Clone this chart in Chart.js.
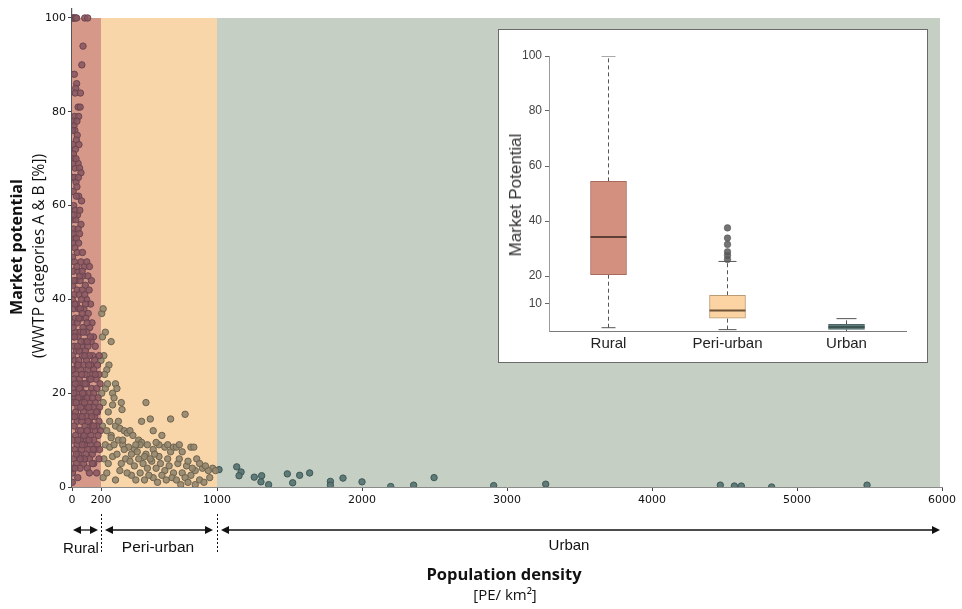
<!DOCTYPE html>
<html>
<head>
<meta charset="utf-8">
<script src="https://cdn.jsdelivr.net/npm/chart.js@4.4.1/dist/chart.umd.min.js"></script>
<style>
  html, body { margin: 0; padding: 0; background: #ffffff; }
  #wrap { position: relative; width: 962px; height: 609px; overflow: hidden; background: #fff; }
  #main { position: absolute; left: 0; top: 0; }
  #inset { position: absolute; left: 498px; top: 29px; width: 428px; height: 332px; border: 1px solid #6a6a6a; background: #ffffff; }
  #insetCanvas { position: absolute; left: 0; top: 0; }
  .lbl { position: absolute; white-space: nowrap; color: #111; }
  .rot { transform-origin: center center; transform: translate(-50%, -50%) rotate(-90deg); }
  .ctr { transform: translate(-50%, -50%); }
</style>
</head>
<body>
<div id="wrap">
  <canvas id="main" width="962" height="609"></canvas>
  <div id="inset">
    <canvas id="insetCanvas" width="428" height="332"></canvas>
    <div class="lbl rot" style="left:17px; top:165px; font-family:'Liberation Sans', Arial, sans-serif; font-size:17px; color:#333;">Market Potential</div>
  </div>
  <div class="lbl rot" style="left:16px; top:247px; font-family:'Open Sans', sans-serif; font-weight:700; font-size:16px;">Market potential</div>
  <div class="lbl rot" style="left:38px; top:256px; font-family:'Open Sans', sans-serif; font-size:15.5px;">(WWTP categories A &amp; B [%])</div>
  <div class="lbl ctr" style="left:504px; top:573px; font-family:'Open Sans', sans-serif; font-weight:700; font-size:16.5px;">Population density</div>
  <div class="lbl ctr" style="left:505px; top:594px; font-family:'Open Sans', sans-serif; font-size:15px;">[PE/ km²]</div>
  <div class="lbl ctr" style="left:81px; top:547px; font-family:'Liberation Sans', Arial, sans-serif; font-size:15px;">Rural</div>
  <div class="lbl ctr" style="left:158px; top:547px; font-family:'Liberation Sans', Arial, sans-serif; font-size:15.5px;">Peri-urban</div>
  <div class="lbl ctr" style="left:569px; top:544px; font-family:'Liberation Sans', Arial, sans-serif; font-size:15px;">Urban</div>
</div>
<script>
// ---------------- DATA ----------------
const xTickValues = [0, 200, 1000, 2000, 3000, 4000, 5000, 6000];
const yTickValues = [0, 20, 40, 60, 80, 100];
const zoneBounds = [0, 200, 1000, 6000];   // rural | peri-urban | urban
const zoneNames = ['Rural', 'Peri-urban', 'Urban'];

// [population density, market potential %]
const ruralPoints = [
 [4,100],[10,100],[17,100],[25,100],[32,100],[88,100],[108,100],
 [76,94],[68,90],
 [32,86],[26,85],[22,84],[42,81],[56,81],[18,79],[46,79],[8,78],[14,77],[20,76],[36,75],[30,74],[6,73],[24,72],[10,71],
 [12,70],[42,69],[22,68],[52,68],[62,67],[4,66],[16,66],[28,65],[34,64],[8,63],[46,62],[66,61],[12,60],[22,59],[38,58],
 [4,57],[26,57],[62,56],[10,55],[42,55],[52,54],[16,53],[30,53],[6,52],[46,52],[20,51],[36,50],[72,50],[2,54],[14,58],
 [54,59],[30,62],[44,66],[6,69],[28,70],[48,73],[2,76],[34,78],[58,84],[16,88],
 [3,49],[18,48],[62,48],[86,47],[102,48],[120,47],[8,46],[40,46],[76,45],[110,45],[26,44],[56,44],[134,44],[5,43],
 [92,43],[36,42],[70,42],[118,42],[15,41],[50,41],[100,40],[2,40],[66,40],[30,39],[128,39],[82,38],[10,38],[46,38],
 [112,37],[22,36],[60,36],[96,36],[138,35],[5,35],[36,35],[76,34],[122,34],[26,33],[56,33],[102,33],[148,32],[12,32],
 [42,32],[86,31],[132,31],[16,30],[66,30],[110,30],[160,30],[30,29],[50,29],[92,29],[142,28],[3,28],[72,28],[120,28],
 [188,28],[20,27],[46,27],[100,27],[156,27],[36,26],[80,26],[130,26],[176,26],[8,25],[60,25],[110,25],[150,25],[26,24],
 [90,24],[140,24],[186,24],[15,23],[50,23],[120,23],[166,23],[40,22],[76,22],[100,22],[194,22],[5,21],[60,21],[136,21],
 [170,21],[30,20],[86,20],[116,20],[150,20],[20,19],[56,19],[96,19],[180,19],[10,18],[70,18],[126,18],[160,18],[40,17],
 [106,17],[146,17],[190,17],[25,16],[80,16],[130,16],[176,16],[5,15],[50,15],[100,15],[156,15],[35,14],[66,14],[120,14],
 [186,14],[15,13],[90,13],[140,13],[170,13],[45,12],[110,12],[160,12],[196,12],[25,11],[76,11],[130,11],[180,11],[8,10],
 [56,10],[100,10],[150,10],[35,9],[86,9],[126,9],[176,9],[20,8],[66,8],[116,8],[160,8],[190,8],[45,7],[96,7],[140,7],
 [10,6],[70,6],[120,6],[186,6],[30,5],[80,5],[150,5],[56,4],[106,4],[3,3],[170,3],[40,2],[2,1],[6,4],
 [12,44],[34,47],[54,45],[70,46],[88,41],[20,39],[58,38],[94,39],[8,34],[48,36],[70,37],[104,35],[18,32],[62,31],[78,33],
 [126,32],[38,30],[88,28],[106,31],[2,25],[42,26],[68,24],[116,26],[160,24],[22,22],[52,21],[90,22],[130,23],[12,20],
 [42,19],[74,20],[106,19],[142,19],[28,18],[60,17],[86,18],[116,17],[168,16],[18,15],[70,15],[110,14],[136,15],[60,12],
 [84,11],[104,12],[150,13],[40,10],[118,10],[70,9],[146,8],[30,7],[86,6],[56,6],[140,5],[20,4],[120,3]
];

const periUrbanPoints = [
 [205,37],[215,38],[230,33],[210,32],[270,31],[255,26],[220,28],[240,25],[300,22],[310,21],[280,20],[230,21],[340,18],
 [345,16.5],[290,19],[510,18],[780,15.5],[540,14.5],[680,14.5],[215,18],[260,14],[300,13],[330,12.5],[360,12],[380,11.5],
 [210,13],[240,12],[270,11],[320,10],[400,12],[420,11],[460,10],[480,9.5],[230,9],[260,8.5],[290,9],[350,9],[390,8.5],
 [430,8],[470,9],[510,7],[560,8],[600,6.5],[640,8.5],[680,7.5],[700,8.5],[720,8.5],[760,7.5],[820,8.5],[860,6],[900,4],
 [950,2],[970,4],[220,6],[250,5],[280,6.5],[310,7],[340,5],[370,6],[400,5.5],[430,4.5],[460,6],[490,5],[520,4],[550,5.5],
 [580,4],[610,5],[640,3.5],[670,4.5],[700,3],[730,5],[760,3],[790,4.5],[820,2.5],[850,3.5],[880,1.5],[910,1],[940,3.5],
 [215,2],[240,3],[300,1.5],[330,3.5],[410,2.5],[440,1.5],[500,1.5],[560,2],[590,1],[620,2.5],[650,1.5],[690,2],[720,1.5],
 [750,0.5],[780,2],[800,1],[830,4],[850,0.5],[380,3],[470,3],[530,2.5],[600,9],[480,14],[620,11],[560,12],[250,16],
 [320,14],[280,17.5],[360,8],[410,7],[450,7.5],[500,6.5],[540,6],[570,7],[660,6],[740,6],[800,5.5],[880,5],[920,4.5],
 [990,3.5],[205,20],[225,24],[245,22],[200,27],[270,10.5],[350,10],[440,9],[520,9],[580,9.5],[660,9],[740,9],[840,8.5]
];

const urbanPoints = [
 [1014,3.7],[1136,4.3],[1166,3.2],[1152,2.4],[1257,2.1],[1308,2.4],[1303,1.1],[1356,0.5],[1485,2.8],[1522,0.9],
 [1570,2.5],[1639,3.0],[1782,1.2],[1782,0.4],[1869,1.9],[2000,1.1],[2198,0.1],[2356,0.4],[2497,2.0],[2908,0.3],
 [3267,0.6],[4471,0.4],[4568,0.2],[4616,0.2],[4825,0.0],[5483,0.4]
];

// inset box plot (Market Potential by zone)
const boxMin    = [1.2, 0.5, 0];
const boxQ1     = [20.5, 4.7, 0.6];
const boxMedian = [34.2, 7.5, 1.5];
const boxQ3     = [54.4, 13, 2.4];
const boxMax    = [100, 25.3, 4.5];
const periOutliers = [26, 27.5, 28.8, 31.5, 33.8, 37.5];
const insetTickValues = [10, 20, 40, 60, 80, 100];

// ---------------- STYLE ----------------
const bandColors = ['#d69888', '#f9d6a9', '#c6cfc4'];
const pointFill = ['rgba(138,86,96,0.88)', 'rgba(146,134,110,0.9)', 'rgba(88,118,116,0.95)'];
const pointEdge = ['#6a4550', '#6e6450', '#3e5756'];
const boxFill = ['#d4907f', '#fcd3a3', '#617f7c'];
const boxEdge = ['#a86a5c', '#b99a74', '#4b6664'];
const medianColor = ['#5e3e36', '#6e5438', '#3c5452'];

const toXY = arr => arr.map(p => ({ x: p[0], y: p[1] }));

const bandPlugin = {
  id: 'bands',
  beforeDatasetsDraw(chart) {
    const { ctx, scales: { x, y } } = chart;
    const top = y.getPixelForValue(100), bottom = y.getPixelForValue(0);
    ctx.save();
    for (let i = 0; i < 3; i++) {
      const l = x.getPixelForValue(zoneBounds[i]);
      const r = x.getPixelForValue(zoneBounds[i + 1]) - (i === 2 ? 2 : 0);
      ctx.fillStyle = bandColors[i];
      ctx.fillRect(l, top, r - l, bottom - top);
    }
    ctx.restore();
  }
};

function arrowHead(ctx, x, y, dir) {
  ctx.beginPath();
  ctx.moveTo(x, y);
  ctx.lineTo(x - dir * 8, y - 4);
  ctx.lineTo(x - dir * 8, y + 4);
  ctx.closePath();
  ctx.fill();
}

const zonePlugin = {
  id: 'zones',
  afterDraw(chart) {
    const { ctx, scales: { x } } = chart;
    const ay = 530;
    ctx.save();
    ctx.strokeStyle = '#111';
    ctx.fillStyle = '#111';
    ctx.lineWidth = 1.3;
    const segs = [
      [x.getPixelForValue(zoneBounds[0]) + 1, x.getPixelForValue(zoneBounds[1]) - 3],
      [x.getPixelForValue(zoneBounds[1]) + 4, x.getPixelForValue(zoneBounds[2]) - 4],
      [x.getPixelForValue(zoneBounds[2]) + 4, x.getPixelForValue(zoneBounds[3]) - 2]
    ];
    segs.forEach(([a, b]) => {
      ctx.beginPath();
      ctx.moveTo(a + 4, ay);
      ctx.lineTo(b - 4, ay);
      ctx.stroke();
      arrowHead(ctx, a, ay, -1);
      arrowHead(ctx, b, ay, 1);
    });
    ctx.setLineDash([2, 2]);
    ctx.lineWidth = 1;
    [zoneBounds[1], zoneBounds[2]].forEach(v => {
      const px = Math.round(x.getPixelForValue(v)) + 0.5;
      ctx.beginPath();
      ctx.moveTo(px, 514);
      ctx.lineTo(px, 552);
      ctx.stroke();
    });
    ctx.restore();
  }
};

const tickFont = { family: "'DejaVu Sans', sans-serif", size: 11 };

new Chart(document.getElementById('main'), {
  type: 'scatter',
  data: {
    datasets: [
      { label: zoneNames[0], data: toXY(ruralPoints), backgroundColor: pointFill[0], borderColor: pointEdge[0] },
      { label: zoneNames[1], data: toXY(periUrbanPoints), backgroundColor: pointFill[1], borderColor: pointEdge[1] },
      { label: zoneNames[2], data: toXY(urbanPoints), backgroundColor: pointFill[2], borderColor: pointEdge[2] }
    ].map(d => Object.assign(d, { pointRadius: 3.2, borderWidth: 1 }))
  },
  options: {
    responsive: false,
    animation: false,
    layout: { padding: { left: 0, right: 20, top: 8, bottom: 0 } },
    plugins: { legend: { display: false }, tooltip: { enabled: false } },
    scales: {
      x: {
        type: 'linear', min: 0, max: 6000,
        afterBuildTicks: s => { s.ticks = xTickValues.map(v => ({ value: v })); },
        afterFit: s => { s.height = 122; },
        ticks: { font: tickFont, color: '#111', padding: 3, autoSkip: false, maxRotation: 0, callback: v => String(v) },
        grid: { drawOnChartArea: false, drawTicks: true, tickLength: 4, color: '#444' },
        border: { color: '#8a8a8a', width: 1 }
      },
      y: {
        type: 'linear', min: 0, max: 102,
        afterBuildTicks: s => { s.ticks = yTickValues.map(v => ({ value: v })); },
        afterFit: s => { s.width = 72; },
        ticks: { font: tickFont, color: '#111', padding: 2, callback: v => String(v) },
        grid: { drawOnChartArea: false, drawTicks: true, tickLength: 4, color: '#444' },
        border: { color: '#555', width: 1.2 }
      }
    }
  },
  plugins: [bandPlugin, zonePlugin]
});

// ---------------- INSET BOX PLOT ----------------
const insetDatasets = [];
// boxes
insetDatasets.push({
  type: 'bar',
  data: zoneNames.map((c, i) => [boxQ1[i], boxQ3[i]]),
  backgroundColor: boxFill,
  borderColor: boxEdge,
  borderWidth: 1,
  borderSkipped: false,
  barThickness: 36,
  order: 2
});
// whiskers (dashed)
zoneNames.forEach((c, i) => {
  [[boxQ3[i], boxMax[i]], [boxMin[i], boxQ1[i]]].forEach(seg => {
    insetDatasets.push({
      type: 'line',
      data: [{ x: c, y: seg[0] }, { x: c, y: seg[1] }],
      borderColor: '#555',
      borderWidth: 1,
      borderDash: [4, 3],
      pointRadius: 0,
      order: 3
    });
  });
});
// caps
insetDatasets.push({
  type: 'line', showLine: false,
  data: zoneNames.flatMap((c, i) => [{ x: c, y: boxMax[i] }, { x: c, y: boxMin[i] }]),
  pointStyle: 'line', pointRadius: [7, 7, 9, 9, 10, 0], borderColor: '#555', pointBorderColor: '#555', pointBorderWidth: 1,
  order: 1
});
// medians
insetDatasets.push({
  type: 'line', showLine: false,
  data: zoneNames.map((c, i) => ({ x: c, y: boxMedian[i] })),
  pointStyle: 'line', pointRadius: 18, pointBorderColor: medianColor, pointBorderWidth: 2,
  order: 1
});
// outliers
insetDatasets.push({
  type: 'line', showLine: false,
  data: periOutliers.map(v => ({ x: zoneNames[1], y: v })),
  pointRadius: 3.3, pointBackgroundColor: 'rgba(90,90,90,0.85)', pointBorderColor: 'rgba(70,70,70,0.9)', pointBorderWidth: 0.5,
  order: 1
});

new Chart(document.getElementById('insetCanvas'), {
  type: 'bar',
  data: { labels: zoneNames, datasets: insetDatasets },
  options: {
    responsive: false,
    animation: false,
    layout: { padding: { left: 0, right: 21, top: 26, bottom: 0 } },
    plugins: { legend: { display: false }, tooltip: { enabled: false } },
    scales: {
      x: {
        type: 'category', offset: true,
        afterFit: s => { s.height = 31; },
        ticks: { font: { family: "'Liberation Sans', Arial, sans-serif", size: 15 }, color: '#222', padding: 4 },
        grid: { display: false, drawTicks: false },
        border: { color: '#7a7a7a', width: 1 }
      },
      y: {
        type: 'linear', min: 0, max: 100,
        afterBuildTicks: s => { s.ticks = insetTickValues.map(v => ({ value: v })); },
        afterFit: s => { s.width = 50; },
        ticks: { font: { family: "'Liberation Sans', Arial, sans-serif", size: 12 }, color: '#444', padding: 3 },
        grid: { drawOnChartArea: false, drawTicks: true, tickLength: 4, color: '#666' },
        border: { color: '#9a9a9a', width: 1 }
      }
    }
  }
});
</script>
</body>
</html>
